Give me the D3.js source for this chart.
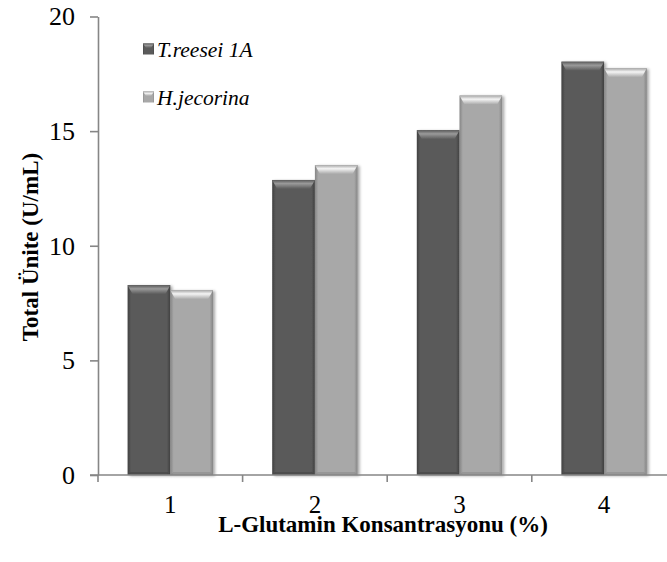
<!DOCTYPE html>
<html>
<head>
<meta charset="utf-8">
<script src="https://cdn.jsdelivr.net/npm/d3@7"></script>
<style>
  html, body { margin: 0; padding: 0; background: #fff; }
  svg { display: block; }
  text { font-family: "Liberation Serif", "Times New Roman", serif; fill: #000; }
</style>
</head>
<body>
<svg id="chart" width="667" height="562"></svg>
<script>
// Enzyme activity by L-glutamine concentration
const categories = ["1", "2", "3", "4"];
const seriesNames = ["T.reesei 1A", "H.jecorina"];
const treesei = [8.28, 12.87, 15.04, 18.03];
const hjecorina = [8.06, 13.52, 16.55, 17.74];
const yTicks = [0, 5, 10, 15, 20];

const seriesValues = [treesei, hjecorina];
const baseColors = ["#5a5a5a", "#a8a8a8"];
const lightColors = ["#9a9a9a", "#f4f4f4"];
const edgeColors = ["#404040", "#858585"];

const svg = d3.select("#chart");
const defs = svg.append("defs");

const plotLeft = 98, plotBottom = 475, plotTop = 16.5;
const step = 144.6;
const barW = 42.7;

const x = d3.scaleBand().domain(categories).range([plotLeft, plotLeft + step * categories.length]).padding(0);
const x1 = d3.scaleBand().domain(seriesNames)
  .range([(x.bandwidth() - 2 * barW) / 2, (x.bandwidth() + 2 * barW) / 2]).padding(0);
const y = d3.scaleLinear().domain([0, 20]).range([plotBottom, plotTop]);

// soft shadow behind each bar
const shadow = defs.append("filter").attr("id", "shadow")
  .attr("x", "-30%").attr("y", "-10%").attr("width", "160%").attr("height", "130%");
shadow.append("feGaussianBlur").attr("in", "SourceAlpha").attr("stdDeviation", 1.6).attr("result", "b");
shadow.append("feOffset").attr("in", "b").attr("dx", 2).attr("dy", 1).attr("result", "o");
shadow.append("feComponentTransfer").attr("in", "o").attr("result", "s")
  .append("feFuncA").attr("type", "linear").attr("slope", 0.35);
const merge = shadow.append("feMerge");
merge.append("feMergeNode").attr("in", "s");
merge.append("feMergeNode").attr("in", "SourceGraphic");

// gradients for bevelled faces
seriesNames.forEach((s, i) => {
  const body = defs.append("linearGradient").attr("id", "body" + i)
    .attr("x1", 0).attr("x2", 1).attr("y1", 0).attr("y2", 0);
  body.append("stop").attr("offset", "0%").attr("stop-color", edgeColors[i]);
  body.append("stop").attr("offset", "8%").attr("stop-color", baseColors[i]);
  body.append("stop").attr("offset", "92%").attr("stop-color", baseColors[i]);
  body.append("stop").attr("offset", "100%").attr("stop-color", edgeColors[i]);

  const topG = defs.append("linearGradient").attr("id", "top" + i)
    .attr("x1", 0).attr("x2", 0).attr("y1", 0).attr("y2", 1);
  topG.append("stop").attr("offset", "0%").attr("stop-color", baseColors[i]);
  topG.append("stop").attr("offset", "40%").attr("stop-color", lightColors[i]);
  topG.append("stop").attr("offset", "100%").attr("stop-color", baseColors[i]);
});

// bars
const groups = svg.append("g").selectAll("g").data(categories).join("g")
  .attr("transform", d => `translate(${x(d)},0)`);

const bevel = 9;
groups.each(function(cat, ci) {
  const g = d3.select(this);
  seriesNames.forEach((s, si) => {
    const v = seriesValues[si][ci];
    const bx = x1(s), by = y(v), bh = y(0) - y(v);
    const bar = g.append("g").attr("filter", "url(#shadow)");
    bar.append("rect").attr("x", bx).attr("y", by).attr("width", barW).attr("height", bh)
      .attr("fill", `url(#body${si})`);
    bar.append("path")
      .attr("d", `M${bx},${by}L${bx + barW},${by}L${bx + barW - 5},${by + bevel}L${bx + 5},${by + bevel}Z`)
      .attr("fill", `url(#top${si})`);
    bar.append("path")
      .attr("d", `M${bx},${by + bh}L${bx + barW},${by + bh}L${bx + barW - 3},${by + bh - 3}L${bx + 3},${by + bh - 3}Z`)
      .attr("fill", edgeColors[si]).attr("opacity", 0.5);
  });
});

// y axis
const yAxis = svg.append("g").attr("transform", `translate(${plotLeft},0)`)
  .call(d3.axisLeft(y).tickValues(yTicks).tickSize(8).tickSizeOuter(0).tickPadding(15));
yAxis.select(".domain").attr("stroke", "#868686").attr("stroke-width", 1.6);
yAxis.selectAll(".tick line").attr("stroke", "#868686").attr("stroke-width", 1.6);
yAxis.selectAll(".tick text").style("font-family", "Liberation Serif").style("font-size", "26px").attr("fill", "#000");

// x axis baseline and category boundary ticks
svg.append("line").attr("x1", plotLeft - 8).attr("x2", 667).attr("y1", plotBottom).attr("y2", plotBottom)
  .attr("stroke", "#868686").attr("stroke-width", 1.6);
svg.append("g").selectAll("line").data(categories).join("line")
  .attr("x1", d => x(d)).attr("x2", d => x(d)).attr("y1", plotBottom).attr("y2", plotBottom + 7)
  .attr("stroke", "#868686").attr("stroke-width", 1.6);
svg.append("g").selectAll("text").data(categories).join("text")
  .attr("x", d => x(d) + x.bandwidth() / 2).attr("y", plotBottom + 38)
  .attr("text-anchor", "middle").style("font-size", "25px").text(d => d);

// axis titles
svg.append("text").attr("x", 383).attr("y", 532).attr("text-anchor", "middle")
  .style("font-size", "23px").style("font-weight", "bold").text("L-Glutamin Konsantrasyonu (%)");
svg.append("text").attr("transform", "translate(38,247) rotate(-90)").attr("text-anchor", "middle")
  .style("font-size", "23px").style("font-weight", "bold").text("Total Ünite (U/mL)");

// legend
const legend = svg.append("g").selectAll("g").data(seriesNames).join("g")
  .attr("transform", (d, i) => `translate(143,${49 + i * 48})`);
legend.append("rect").attr("x", 0).attr("y", -5.5).attr("width", 11).attr("height", 11)
  .attr("fill", (d, i) => `url(#body${i})`);
legend.append("path").attr("d", "M0,-5.5L11,-5.5L8,-1L3,-1Z").attr("fill", (d, i) => `url(#top${i})`);
legend.append("text").attr("x", 14).attr("y", 8).style("font-size", "21.5px").style("font-style", "italic")
  .text(d => d);
</script>
</body>
</html>
